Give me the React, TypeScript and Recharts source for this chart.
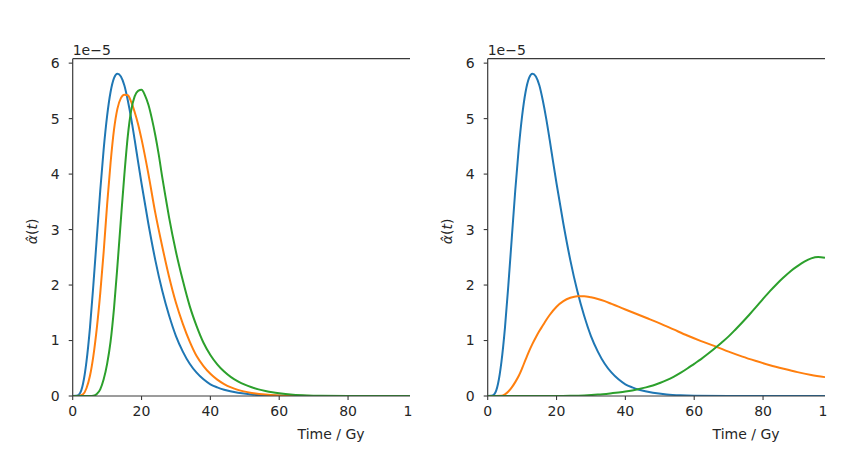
import React from 'react';
import { LineChart, Line, XAxis, YAxis, ReferenceLine, Label } from 'recharts';

// ---- data (values in units of 1e-5) ----
const blueT = [0, 1, 2, 3, 4, 5, 6, 7, 8, 9, 10, 11, 12, 13, 14, 15, 16, 17, 18, 19, 20, 22, 24, 26, 28, 30, 32, 34, 36, 38, 40, 42, 44, 48, 52, 56, 60, 70, 80, 90, 98];
const blueA = [0, 0.003, 0.04, 0.22, 0.62, 1.22, 2.0, 2.85, 3.7, 4.45, 5.05, 5.48, 5.73, 5.81, 5.76, 5.6, 5.33, 5.0, 4.62, 4.22, 3.83, 3.1, 2.45, 1.9, 1.45, 1.08, 0.8, 0.58, 0.42, 0.3, 0.21, 0.155, 0.113, 0.058, 0.028, 0.013, 0.006, 0.001, 0, 0, 0];

const leftOrangeT = [0, 2, 3, 4, 5, 6, 7, 8, 9, 10, 11, 12, 13, 14, 15, 16, 17, 18, 19, 20, 22, 24, 26, 28, 30, 32, 34, 36, 38, 40, 42, 44, 46, 48, 52, 56, 60, 64, 70, 80, 98];
const leftOrangeA = [0, 0.005, 0.03, 0.14, 0.36, 0.72, 1.22, 1.85, 2.6, 3.45, 4.2, 4.8, 5.18, 5.37, 5.43, 5.42, 5.3, 5.12, 4.9, 4.63, 4.0, 3.3, 2.7, 2.15, 1.68, 1.3, 0.98, 0.72, 0.54, 0.4, 0.295, 0.215, 0.155, 0.11, 0.055, 0.025, 0.011, 0.005, 0.001, 0, 0];

const leftGreenT = [0, 5, 6, 7, 8, 9, 10, 11, 12, 13, 14, 15, 16, 17, 18, 19, 20, 21, 22, 23, 24, 25, 26, 27, 28, 30, 32, 34, 36, 38, 40, 42, 44, 46, 48, 50, 52, 54, 56, 58, 60, 64, 68, 72, 80, 98];
const leftGreenA = [0, 0, 0.005, 0.035, 0.12, 0.3, 0.58, 0.98, 1.58, 2.35, 3.18, 3.98, 4.68, 5.15, 5.4, 5.5, 5.52, 5.42, 5.25, 5.0, 4.7, 4.35, 3.95, 3.58, 3.22, 2.6, 2.08, 1.62, 1.26, 0.96, 0.74, 0.57, 0.44, 0.34, 0.265, 0.205, 0.158, 0.12, 0.09, 0.066, 0.048, 0.024, 0.011, 0.004, 0, 0];

const rightOrangeT = [0, 4, 5, 6, 7, 8, 9, 10, 11, 12, 13, 14, 15, 16, 17, 18, 20, 22, 24, 26, 28, 30, 32, 34, 36, 38, 40, 42, 46, 50, 54, 58, 62, 66, 70, 74, 78, 82, 86, 90, 94, 98];
const rightOrangeA = [0, 0.005, 0.03, 0.08, 0.155, 0.25, 0.36, 0.5, 0.655, 0.805, 0.94, 1.06, 1.17, 1.27, 1.37, 1.46, 1.61, 1.71, 1.77, 1.8, 1.8, 1.78, 1.75, 1.71, 1.66, 1.61, 1.56, 1.51, 1.41, 1.31, 1.2, 1.09, 0.99, 0.9, 0.8, 0.71, 0.63, 0.555, 0.49, 0.43, 0.38, 0.34];

const rightGreenT = [0, 20, 24, 28, 32, 36, 38, 40, 42, 44, 46, 48, 50, 52, 54, 56, 58, 60, 62, 64, 66, 68, 70, 72, 74, 76, 78, 80, 82, 84, 86, 88, 90, 92, 94, 96, 98];
const rightGreenA = [0, 0, 0.003, 0.01, 0.025, 0.05, 0.064, 0.08, 0.1, 0.125, 0.155, 0.19, 0.235, 0.285, 0.345, 0.415, 0.495, 0.58, 0.665, 0.76, 0.86, 0.965, 1.075, 1.2, 1.33, 1.465, 1.605, 1.75, 1.89, 2.02, 2.14, 2.25, 2.34, 2.42, 2.48, 2.505, 2.49];

const xTicks = [0, 20, 40, 60, 80, 98];
const yTicks = [0, 1, 2, 3, 4, 5, 6];
const xDomain: [number, number] = [0, 98];
const yDomain: [number, number] = [0, 6.08];
const yLabelText = 'α̂';
const xLabelText = 'Time / Gy';
const offsetText = '1e\u22125';

const zip = (t: number[], a: number[]) => t.map((x, i) => ({ x, y: a[i] }));

// ---- style / layout ----
const FONT = '"DejaVu Sans", sans-serif';
const TEXT = '#262626';
const SPINE = '#3a3a3a';
const COLORS = ['#1f77b4', '#ff7f0e', '#2ca02c'];
const CHART_W = 425;
const CHART_H = 473;
const MARGIN = { top: 58.7, right: 15, left: 32.7, bottom: 47 };
const XAXIS_H = 30;
const YAXIS_W = 40;
const PLOT_BOTTOM = CHART_H - MARGIN.bottom - XAXIS_H;

const XTick = (props: any) => {
  const { x, payload } = props;
  const v = payload.value;
  if (v === xTicks[xTicks.length - 1]) {
    return (
      <text x={x - 6.5} y={PLOT_BOTTOM + 10} dy="0.71em" textAnchor="start" fontFamily={FONT} fontSize={14} fill={TEXT}>
        1
      </text>
    );
  }
  return (
    <g>
      <line x1={x} x2={x} y1={PLOT_BOTTOM} y2={PLOT_BOTTOM + 4} stroke={SPINE} strokeWidth={1.1} />
      <text x={x} y={PLOT_BOTTOM + 10} dy="0.71em" textAnchor="middle" fontFamily={FONT} fontSize={14} fill={TEXT}>
        {v}
      </text>
    </g>
  );
};

const YLabelContent = (props: any) => {
  const vb = props.viewBox || { x: MARGIN.left, y: MARGIN.top, width: YAXIS_W, height: PLOT_BOTTOM - MARGIN.top };
  const lx = vb.x + 4.3;
  const ly = vb.y + vb.height / 2 + 4;
  return (
    <g>
      <text x={lx} y={ly} transform={`rotate(-90 ${lx} ${ly})`} textAnchor="middle" fontFamily={FONT} fontSize={14} fill={TEXT}>
        <tspan fontStyle="italic">{yLabelText}</tspan>
        <tspan>(</tspan>
        <tspan fontStyle="italic">t</tspan>
        <tspan>)</tspan>
      </text>
      <text x={vb.x + vb.width} y={vb.y - 3.7} textAnchor="start" fontFamily={FONT} fontSize={14} fill={TEXT}>
        {offsetText}
      </text>
    </g>
  );
};

const XLabelContent = (props: any) => {
  const vb = props.viewBox || { x: MARGIN.left + YAXIS_W, y: PLOT_BOTTOM, width: CHART_W - MARGIN.left - YAXIS_W - MARGIN.right, height: XAXIS_H };
  return (
    <text x={vb.x + vb.width * 0.766} y={vb.y + 43} textAnchor="middle" fontFamily={FONT} fontSize={14} fill={TEXT}>
      {xLabelText}
    </text>
  );
};

type Series = { data: { x: number; y: number }[]; color: string; name: string };

const Panel = ({ series, left }: { series: Series[]; left: number }) => (
  <div style={{ position: 'absolute', left, top: 0, width: CHART_W, height: CHART_H }}>
    <LineChart width={CHART_W} height={CHART_H} margin={MARGIN}>
      <XAxis
        type="number"
        dataKey="x"
        domain={xDomain}
        ticks={xTicks}
        height={XAXIS_H}
        axisLine={{ stroke: SPINE, strokeWidth: 1.2 }}
        tickLine={false}
        tick={<XTick />}
        interval={0}
        allowDataOverflow
      >
        <Label content={<XLabelContent />} />
      </XAxis>
      <YAxis
        type="number"
        domain={yDomain}
        ticks={yTicks}
        width={YAXIS_W}
        axisLine={{ stroke: SPINE, strokeWidth: 1.2 }}
        tickLine={{ stroke: SPINE, strokeWidth: 1.1 }}
        tickSize={4}
        tickMargin={9}
        interval={0}
        tick={{ fontFamily: FONT, fontSize: 14, fill: TEXT }}
        allowDataOverflow
      >
        <Label content={<YLabelContent />} />
      </YAxis>
      <ReferenceLine y={yDomain[1]} stroke={SPINE} strokeWidth={1.2} ifOverflow="visible" />
      {series.map((s) => (
        <Line
          key={s.name}
          data={s.data}
          dataKey="y"
          type="monotone"
          stroke={s.color}
          strokeWidth={2}
          dot={false}
          activeDot={false}
          isAnimationActive={false}
        />
      ))}
    </LineChart>
  </div>
);

export default function App() {
  const leftSeries: Series[] = [
    { name: 'blue', data: zip(blueT, blueA), color: COLORS[0] },
    { name: 'orange', data: zip(leftOrangeT, leftOrangeA), color: COLORS[1] },
    { name: 'green', data: zip(leftGreenT, leftGreenA), color: COLORS[2] },
  ];
  const rightSeries: Series[] = [
    { name: 'blue', data: zip(blueT, blueA), color: COLORS[0] },
    { name: 'orange', data: zip(rightOrangeT, rightOrangeA), color: COLORS[1] },
    { name: 'green', data: zip(rightGreenT, rightGreenA), color: COLORS[2] },
  ];
  return (
    <div style={{ position: 'absolute', left: 0, top: 0, width: 850, height: 473, background: '#fff', overflow: 'hidden' }}>
      <Panel series={leftSeries} left={0} />
      <Panel series={rightSeries} left={415} />
    </div>
  );
}
